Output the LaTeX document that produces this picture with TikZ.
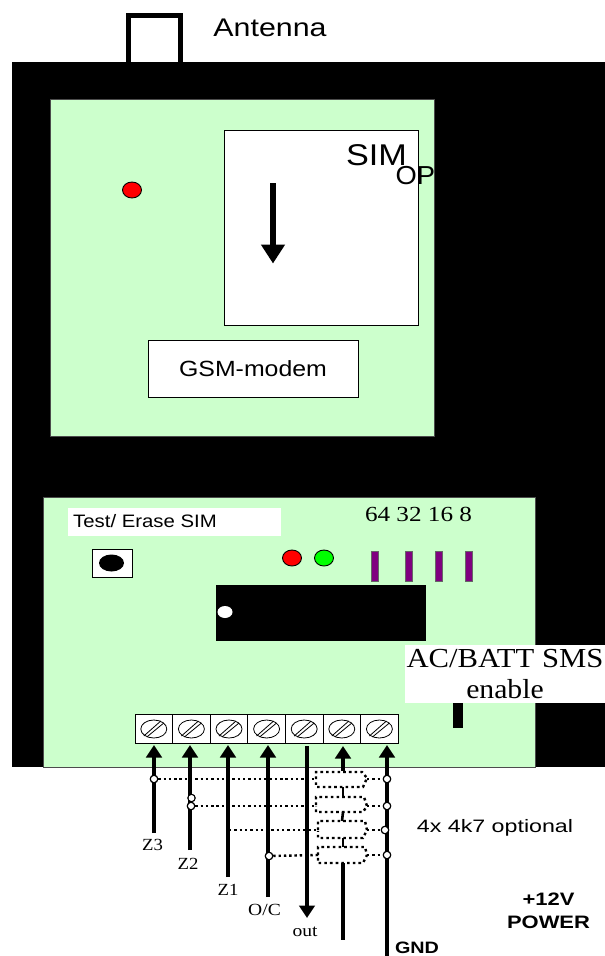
\documentclass[tikz,border=0pt]{standalone}
\usepackage{fontspec}
\setmainfont{Liberation Sans}
\newfontfamily\serifface{Liberation Serif}
\usetikzlibrary{arrows.meta,shapes.geometric,calc}
\definecolor{pcb}{RGB}{204,255,204}
\definecolor{dipcol}{RGB}{128,0,128}
\newcommand{\stx}[2]{\scalebox{#1}[1]{#2}}
\newcommand{\sz}[1]{\fontsize{#1}{#1}\selectfont}
\tikzset{
  board/.style={fill=pcb,draw=black!70,line width=.4pt},
  whitebox/.style={draw=black,fill=white,line width=.9pt,inner sep=0pt},
  led/.style={ellipse,draw=black,line width=.9pt,inner sep=0pt,minimum width=19pt,minimum height=16pt},
  dipbar/.style={fill=dipcol,draw=black!60,line width=.6pt},
  wire/.style={line width=3.1pt,draw=black},
  wirearrow/.style={wire,-{Triangle[length=12.5pt,width=15.5pt]}},
  res/.style={line width=2.4pt,dash pattern=on 2.6pt off 3.1pt,draw=black},
  dotline/.style={line width=2.4pt,dash pattern=on 2.4pt off 2.9pt,draw=black},
  joint/.style={circle,draw=black,fill=white,line width=1pt,inner sep=0pt,minimum size=7.5pt},
  cell/.style={draw=black,fill=white,line width=.9pt,minimum width=37.6pt,minimum height=29.5pt,inner sep=0pt,outer sep=0pt},
  lbl/.style={inner sep=0pt,text=black},
  tlbl/.style={lbl,font=\serifface\sz{17}},
}
\begin{document}
\begin{tikzpicture}[x=1pt,y=-1pt]
\useasboundingbox (0,0) rectangle (605,956);
% antenna and case
\draw[line width=5pt] (128.5,62) -- (128.5,15.5) -- (180.5,15.5) -- (180.5,62);
\fill[black] (12,62) rectangle (605,767);
\node[lbl,font=\sz{25.5}] (antenna) at (270,28) {\stx{1.19}{Antenna}};
% upper board
\draw[board] (50,99) rectangle (434,436);
\node[whitebox,minimum width=194pt,minimum height=195pt] (sim) at (321,227.5) {};
\node[led,fill=red] (modemled) at (132,190) {};
\coordinate (arrowstart) at (273,183);
\coordinate (arrowend) at (273,263.5);
\draw[line width=6.5pt,-{Triangle[length=19pt,width=23pt]}] (arrowstart) -- (arrowend);
\node[whitebox,minimum width=210pt,minimum height=57pt] (gsm) at (253,368.5) {\sz{22}\stx{1.13}{GSM-modem}};
\node[lbl,font=\sz{30}] (simtext) at (376.5,155) {\stx{1.14}{SIM}};
\begin{scope}
\clip (390,150) rectangle (434.5,210);
\node[lbl,font=\sz{26},anchor=west] (optext) at (395.5,176) {\stx{1.05}{OP}};
\end{scope}
% lower board
\draw[board] (43,497) rectangle (535,767);
\node[fill=white,minimum width=213pt,minimum height=28pt,inner sep=0pt] (testbox) at (174.5,522) {};
\node[lbl,font=\sz{18},anchor=west] (testtext) at (73,521) {\stx{1.13}{Test/ Erase SIM}};
\node[lbl,font=\serifface\sz{21.5}] (dips) at (418.5,514) {\stx{1.17}{64 32 16 8}};
\node[whitebox,minimum width=40pt,minimum height=28pt] (button) at (112,563) {};
\node[ellipse,fill=black,inner sep=0pt,minimum width=25pt,minimum height=17pt] (buttoncap) at (111.5,563) {};
\node[led,fill=red] (ledred) at (292,558) {};
\node[led,fill=green] (ledgreen) at (324,558) {};
\draw[dipbar] (371,551) rectangle (378,581);
\draw[dipbar] (405,551) rectangle (412,581);
\draw[dipbar] (435,551) rectangle (442,581);
\draw[dipbar] (465,551) rectangle (472,581);
\fill[black] (216,585) rectangle (426,641);
\node[ellipse,fill=white,inner sep=0pt,minimum width=15pt,minimum height=12pt] (chipdot) at (225,612) {};
\node[fill=white,minimum width=200pt,minimum height=58pt,inner sep=0pt] (acbox) at (505,674) {};
\node[lbl,font=\serifface\sz{27.5}] (actext) at (505,659) {\stx{1.115}{AC/BATT SMS}};
\node[lbl,font=\serifface\sz{27.5}] (entext) at (505,689) {\stx{1.08}{enable}};
\fill[black] (453,703) rectangle (463,728);
% terminal block
\foreach \i in {1,...,7}{
  \node[cell] (t\i) at ({135+18.8+37.6*(\i-1)},729) {};
  \draw[line width=.8pt] (t\i.center) ellipse [x radius=13pt,y radius=9pt];
  \draw[line width=.8pt] ($(t\i.center)+(-10,7)$) -- ($(t\i.center)+(7,-8)$);
  \draw[line width=.8pt] ($(t\i.center)+(-7,8)$) -- ($(t\i.center)+(10,-6)$);
}
% resistor outlines
\draw[res] (316,779) -- (316,772) -- (362,772) -- (367,778) -- (363,787) -- (316,787) -- (316,780);
\draw[res] (316,805) -- (316,797) -- (364,797) -- (367,806) -- (363,812) -- (316,812) -- (316,806);
\draw[res] (318,830) -- (318,821) -- (365,821) -- (367,830) -- (363,838) -- (318,838) -- (318,831);
\draw[res] (318,855) -- (318,847) -- (365,847) -- (367,855) -- (363,863) -- (318,863) -- (318,856);
% joints
\node[joint] (j3) at (154,779) {};
\node[joint] (j2) at (191,806) {};
\node[joint,minimum size=7pt] (j2b) at (191.5,798) {};
\coordinate (j1) at (229,830);
\node[joint] (joc) at (269,856) {};
\node[joint] (g1) at (387,779) {};
\node[joint] (g2) at (387,806) {};
\node[joint] (g3) at (385,830) {};
\node[joint] (g4) at (387,855) {};
\coordinate (r1l) at (316,779);
\coordinate (r2l) at (316,806);
\coordinate (r3l) at (318,830);
\coordinate (r4l) at (318,855);
\coordinate (r1r) at (367,779);
\coordinate (r2r) at (367,806);
\coordinate (r3r) at (367,830);
\coordinate (r4r) at (367,855);
\draw[dotline] (j3) -- (r1l);
\draw[dotline] (j2) -- (r2l);
\draw[dotline] (j1) -- (r3l);
\draw[dotline] (joc) -- (r4l);
\draw[dotline] (r1r) -- (g1);
\draw[dotline] (r2r) -- (g2);
\draw[dotline] (r3r) -- (g3);
\draw[dotline] (r4r) -- (g4);
% wires
\coordinate (a1) at (154,745); \coordinate (e1) at (154,833);
\coordinate (a2) at (190,745); \coordinate (e2) at (190,850);
\coordinate (a3) at (228,745); \coordinate (e3) at (228,877);
\coordinate (a4) at (268,745); \coordinate (e4) at (268,897);
\coordinate (o5) at (307,746); \coordinate (e5) at (307,918);
\coordinate (a6) at (343,746); \coordinate (e6) at (343,771);
\coordinate (a7) at (387,745); \coordinate (e7) at (387,956);
\coordinate (s6) at (343,863); \coordinate (f6) at (343,940);
\draw[wirearrow] (e1) -- (a1);
\draw[wirearrow] (e2) -- (a2);
\draw[wirearrow] (e3) -- (a3);
\draw[wirearrow] (e4) -- (a4);
\draw[wirearrow] (o5) -- (e5);
\draw[wirearrow] (e6) -- (a6);
\draw[wirearrow] (e7) -- (a7);
\draw[wire] (s6) -- (f6);
\draw[wire,line width=2.6pt] (343,787) -- (343,797);
\draw[wire,line width=2.6pt] (343,812) -- (342,821);
\draw[wire,line width=2.6pt] (343,838) -- (343,847);
% joints redrawn above wires
\foreach \n in {j3,j2,j2b,joc,g1,g2,g3,g4}{
  \fill[white] (\n) circle (3.2pt);
  \draw[line width=1pt] (\n) circle (3.7pt);
}
% labels
\node[tlbl] (lz3) at (152.5,845) {\stx{1.1}{Z3}};
\node[tlbl] (lz2) at (188,864) {\stx{1.1}{Z2}};
\node[tlbl] (lz1) at (228,890) {\stx{1.1}{Z1}};
\node[tlbl] (loc) at (264.5,910) {\stx{1.15}{O/C}};
\node[tlbl] (lout) at (305,932) {\stx{1.15}{out}};
\node[lbl,font=\sz{18}] (lopt) at (495,828) {\stx{1.29}{4x 4k7 optional}};
\node[lbl,font=\bfseries\sz{16.5}] (lgnd) at (417,948) {\stx{1.2}{GND}};
\node[lbl,font=\bfseries\sz{18}] (l12) at (548.5,899) {\stx{1.22}{+12V}};
\node[lbl,font=\bfseries\sz{18}] (lpow) at (548.5,922) {\stx{1.22}{POWER}};
\end{tikzpicture}
\end{document}
